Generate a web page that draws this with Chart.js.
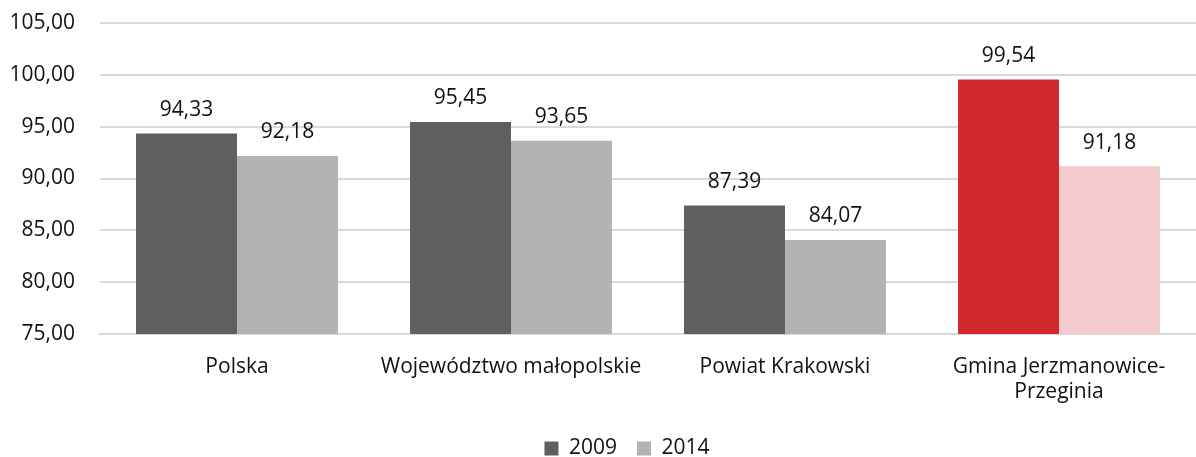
<!DOCTYPE html>
<html>
<head>
<meta charset="utf-8">
<script src="https://cdn.jsdelivr.net/npm/chart.js@4"></script>
<style>
  html, body { margin: 0; padding: 0; background: #fff; }
  #wrap { width: 1196px; height: 457px; }
</style>
</head>
<body>
<div id="wrap"><canvas id="chart" width="1196" height="457"></canvas></div>
<script>
  // Data
  var categories = ["Polska", "Województwo małopolskie", "Powiat Krakowski", ["Gmina Jerzmanowice-", "Przeginia"]];
  var values2009 = [94.33, 95.45, 87.39, 99.54];
  var values2014 = [92.18, 93.65, 84.07, 91.18];
  var seriesNames = ["2009", "2014"];
  var yTicks = [75, 80, 85, 90, 95, 100, 105];

  var FONT = "'Open Sans', 'Noto Sans', sans-serif";
  var fmt = function (v) { return v.toFixed(2).replace(".", ","); };

  // value labels above bars
  var valueLabels = {
    id: "valueLabels",
    afterDatasetsDraw: function (chart) {
      var ctx = chart.ctx;
      ctx.save();
      ctx.font = "21px " + FONT;
      ctx.fillStyle = "#111";
      ctx.textAlign = "center";
      ctx.textBaseline = "bottom";
      chart.data.datasets.forEach(function (ds, i) {
        chart.getDatasetMeta(i).data.forEach(function (bar, j) {
          ctx.fillText(fmt(ds.data[j]), bar.x, bar.y - 13);
        });
      });
      ctx.restore();
    }
  };

  // legend sits a bit right of centre in the original
  var legendShift = {
    id: "legendShift",
    afterLayout: function (chart) {
      chart.legend.left += 29;
      chart.legend.right += 29;
    }
  };

  Chart.defaults.font.family = FONT;
  Chart.defaults.font.size = 21;
  Chart.defaults.color = "#111";

  new Chart(document.getElementById("chart").getContext("2d"), {
    type: "bar",
    data: {
      labels: categories,
      datasets: [
        {
          label: seriesNames[0],
          data: values2009,
          backgroundColor: ["#5f5f5f", "#5f5f5f", "#5f5f5f", "#d0292b"]
        },
        {
          label: seriesNames[1],
          data: values2014,
          backgroundColor: ["#b3b3b3", "#b3b3b3", "#b3b3b3", "#f4cbcc"]
        }
      ]
    },
    options: {
      responsive: false,
      animation: false,
      layout: { padding: { top: 23, right: 0, left: 0, bottom: -12 } },
      datasets: { bar: { categoryPercentage: 0.737, barPercentage: 1.0 } },
      scales: {
        x: {
          grid: { display: false },
          border: { color: "#d9d9d9", width: 2 },
          ticks: { padding: 12, maxRotation: 0, autoSkip: false, font: { size: 21 } },
          afterFit: function (axis) { axis.height = 84; }
        },
        y: {
          min: 75,
          max: 105,
          afterBuildTicks: function (axis) {
            axis.ticks = yTicks.map(function (v) { return { value: v }; });
          },
          grid: { color: "#d9d9d9", lineWidth: 2, drawTicks: false },
          border: { display: false },
          ticks: { padding: 25, callback: function (v) { return fmt(v); }, font: { size: 21 } },
          afterFit: function (axis) {
            axis.width = 100;
            axis.paddingTop = 0;
            axis.paddingBottom = 0;
          }
        }
      },
      plugins: {
        legend: {
          position: "bottom",
          labels: { boxWidth: 14, boxHeight: 14, padding: 20, font: { size: 21 }, color: "#111" }
        },
        tooltip: { enabled: false }
      }
    },
    plugins: [valueLabels, legendShift]
  });
</script>
</body>
</html>
